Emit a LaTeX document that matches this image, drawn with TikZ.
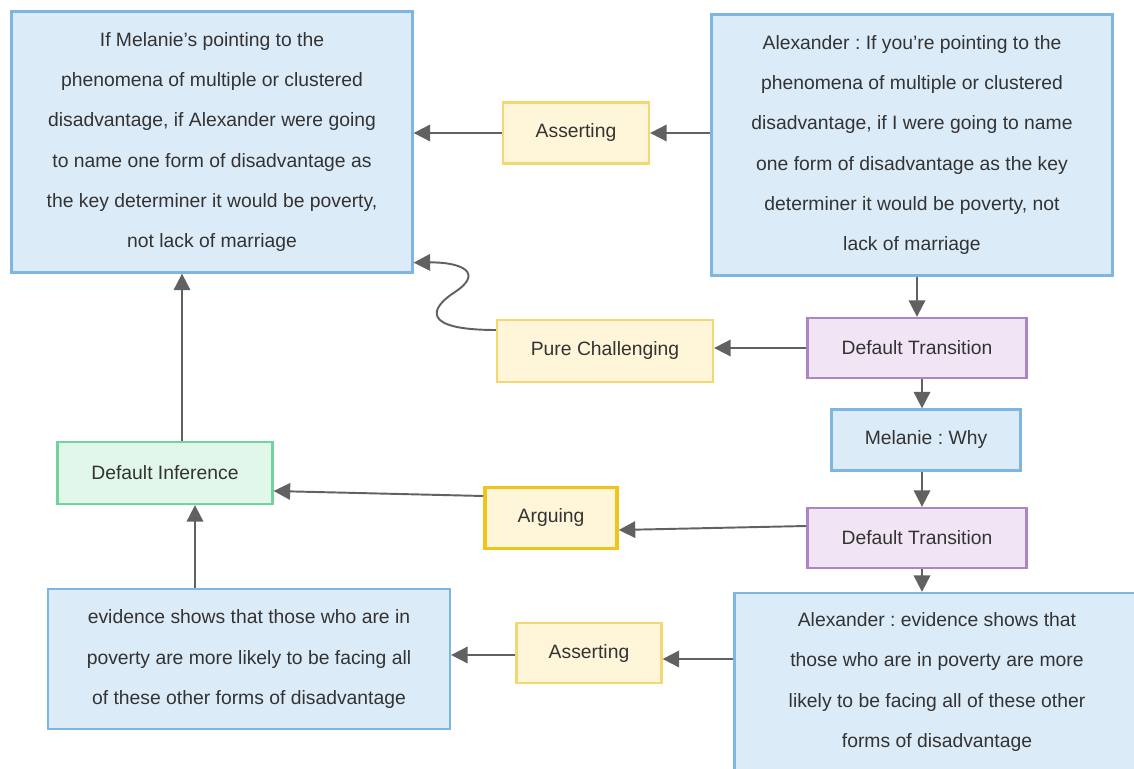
\documentclass[tikz,border=0pt]{standalone}
\usepackage{fontspec}
\setmainfont{Liberation Sans}
\frenchspacing
\usetikzlibrary{arrows.meta,calc}
\definecolor{bluefill}{HTML}{DCEBF8}
\definecolor{blueline}{HTML}{7DB5E3}
\definecolor{yelfill}{HTML}{FFF5D8}
\definecolor{yelline}{HTML}{F3D872}
\definecolor{yelstrong}{HTML}{F0C419}
\definecolor{purfill}{HTML}{F1E5F5}
\definecolor{purline}{HTML}{AC86C4}
\definecolor{grnfill}{HTML}{E0F7EA}
\definecolor{grnline}{HTML}{72D39C}
\definecolor{arrowgray}{HTML}{616161}
\definecolor{txtgray}{HTML}{333333}
\tikzset{
  box/.style={draw, line width=1.3pt, inner sep=0pt, align=center,
    text=txtgray, font=\fontsize{11}{22.8}\selectfont},
  bluebox/.style={box, fill=bluefill, draw=blueline},
  yelbox/.style={box, fill=yelfill, draw=yelline},
  purbox/.style={box, fill=purfill, draw=purline},
  grnbox/.style={box, fill=grnfill, draw=grnline},
  link/.style={draw=arrowgray, line width=1.1pt,
    -{Triangle[length=3.3mm,width=3.3mm]}}
}
\begin{document}
\begin{tikzpicture}[x=0.2mm, y=-0.2mm]
    \useasboundingbox (0,0) rectangle (1134,769);
    \begin{scope}
    \clip (0,0) rectangle (1134,769);
    % claims
    \node[bluebox, minimum width=8.02cm, minimum height=5.22cm] (claimL) at (212,142)
      {If Melanie's pointing to the\\ phenomena of multiple or clustered\\
       disadvantage, if Alexander were going\\ to name one form of disadvantage as\\
       the key determiner it would be poverty,\\ not lack of marriage};
    \node[bluebox, minimum width=8.02cm, minimum height=5.22cm] (claimR) at (912,145)
      {Alexander : If you're pointing to the\\ phenomena of multiple or clustered\\
       disadvantage, if I were going to name\\ one form of disadvantage as the key\\
       determiner it would be poverty, not\\ lack of marriage};
    \node[bluebox, minimum width=8.04cm, minimum height=2.8cm] (evidL) at (249,659)
      {evidence shows that those who are in\\ poverty are more likely to be facing all\\
       of these other forms of disadvantage};
    \node[bluebox, minimum width=8.1cm, minimum height=3.56cm] (evidR) at (937,682)
      {Alexander : evidence shows that\\ those who are in poverty are more\\
       likely to be facing all of these other\\ forms of disadvantage};
    \node[bluebox, minimum width=3.78cm, minimum height=1.22cm] (why) at (926,440)
      {Melanie : Why};
    % transitions
    \node[purbox, minimum width=4.38cm, minimum height=1.2cm] (trans1) at (917,348)
      {Default Transition};
    \node[purbox, minimum width=4.38cm, minimum height=1.2cm] (trans2) at (917,538)
      {Default Transition};
    % illocutions
    \node[yelbox, minimum width=2.92cm, minimum height=1.22cm] (assert1) at (576,133)
      {Asserting};
    \node[yelbox, minimum width=4.32cm, minimum height=1.24cm] (challenge) at (605,351)
      {Pure Challenging};
    \node[yelbox, draw=yelstrong, line width=2pt, minimum width=2.64cm, minimum height=1.22cm]
      (argue) at (551,518) {Arguing};
    \node[yelbox, minimum width=2.9cm, minimum height=1.2cm] (assert2) at (589,653)
      {Asserting};
    % inference
    \node[grnbox, minimum width=4.3cm, minimum height=1.24cm] (infer) at (165,473)
      {Default Inference};

    % connectors
    \draw[link] (claimR.west |- assert1.east) -- (assert1.east);
    \draw[link] (assert1.west) -- (claimL.east |- assert1.west);
    \draw[link] ($(challenge.west)+(0,-21)$) .. controls (420,330) and (430,308) .. (455,292)
      .. controls (485,272) and (460,262) .. ($(claimL.south east)+(0,-11)$);
    \draw[link] (trans1.west) -- (challenge.east |- trans1.west);
    \draw[link] (claimR.south -| trans1.north) -- (trans1.north);
    \draw[link] (trans1.south -| {$(why.north)+(-4,0)$}) -- ($(why.north)+(-4,0)$);
    \draw[link] ($(why.south)+(-4,0)$) -- (trans2.north -| {$(why.south)+(-4,0)$});
    \draw[link] ($(trans2.west)+(0,-12)$) -- ($(argue.east)+(0,12)$);
    \draw[link] ($(argue.west)+(0,-22)$) -- ($(infer.east)+(0,18)$);
    \draw[link] ($(trans2.south)+(5,0)$) -- (evidR.north -| {$(trans2.south)+(5,0)$});
    \draw[link] ($(evidR.west)+(0,-23)$) -- ($(assert2.east)+(0,6)$);
    \draw[link] ($(assert2.west)+(0,2)$) -- (evidL.east |- {$(assert2.west)+(0,2)$});
    \draw[link] (evidL.north -| 195,0) -- (infer.south -| 195,0);
    \draw[link] (infer.north -| 182,0) -- (claimL.south -| 182,0);
    \end{scope}
\end{tikzpicture}
\end{document}
